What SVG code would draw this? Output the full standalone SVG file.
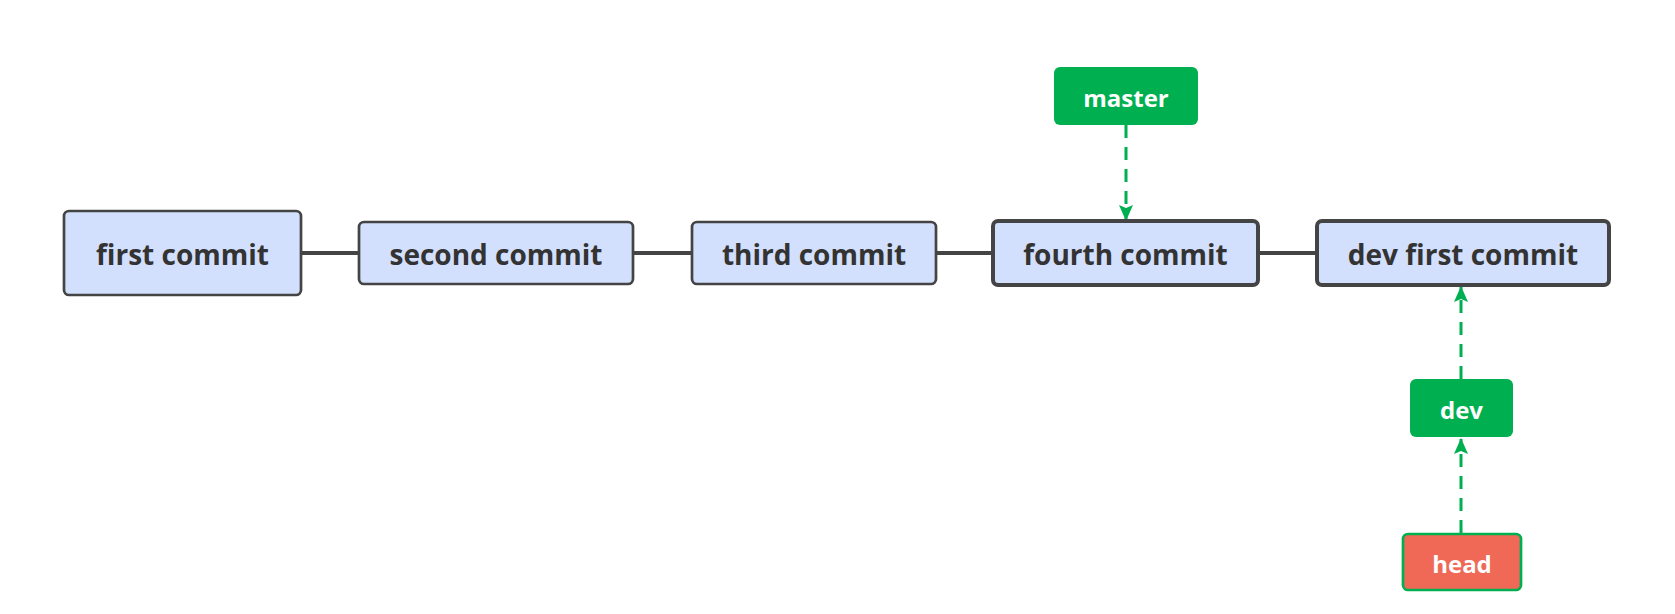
<svg xmlns="http://www.w3.org/2000/svg" width="1675" height="614" viewBox="0 0 1675 614">
<defs>
<style>
.c{fill:#d2dffd;stroke:#444;stroke-width:2.7}
.c2{fill:#d2dffd;stroke:#444;stroke-width:4}
.g{fill:#00b050}
.h{fill:#f06856;stroke:#00b050;stroke-width:2.7}
.t{font-family:"Open Sans","Noto Sans",sans-serif;font-weight:bold;font-size:28px;fill:#333;text-anchor:middle;dominant-baseline:central}
.w{fill:#fff;font-size:24px}
.ln{stroke:#444;stroke-width:4;fill:none}
.ar{stroke:#00b050;stroke-width:3;fill:none;stroke-dasharray:13 9}
</style>
<marker id="ah" viewBox="0 0 16 16" refX="15" refY="8" markerWidth="16" markerHeight="16" markerUnits="userSpaceOnUse" orient="auto">
<path d="M0,1 L16,8 L0,15 L3,8 Z" fill="#00b050"/>
</marker>
</defs>
<rect width="1675" height="614" fill="#fff"/>
<g id="connectors">
<line class="ln" x1="301" y1="253" x2="359" y2="253"/>
<line class="ln" x1="633" y1="253" x2="692" y2="253"/>
<line class="ln" x1="936" y1="253" x2="993" y2="253"/>
<line class="ln" x1="1258" y1="253" x2="1317" y2="253"/>
<line class="ar" x1="1126" y1="125" x2="1126" y2="220" marker-end="url(#ah)"/>
<line class="ar" x1="1461" y1="379" x2="1461" y2="287" marker-end="url(#ah)"/>
<line class="ar" x1="1461" y1="533" x2="1461" y2="439" marker-end="url(#ah)"/>
</g>
<g id="first"><rect class="c" x="64" y="211" width="237" height="84" rx="5"/><text class="t" x="182.5" y="254">first commit</text></g>
<g id="second"><rect class="c" x="359" y="222" width="274" height="62" rx="5"/><text class="t" x="496" y="254">second commit</text></g>
<g id="third"><rect class="c" x="692" y="222" width="244" height="62" rx="5"/><text class="t" x="814" y="254">third commit</text></g>
<g id="fourth"><rect class="c2" x="993" y="221" width="265" height="64" rx="5"/><text class="t" x="1125.5" y="254">fourth commit</text></g>
<g id="devfirst"><rect class="c2" x="1317" y="221" width="292" height="64" rx="5"/><text class="t" x="1463" y="254">dev first commit</text></g>
<g id="master"><rect class="g" x="1054" y="67" width="144" height="58" rx="6"/><text class="t w" x="1126" y="97">master</text></g>
<g id="dev"><rect class="g" x="1410" y="379" width="103" height="58" rx="6"/><text class="t w" x="1461.5" y="409">dev</text></g>
<g id="head"><rect class="h" x="1403" y="534" width="118" height="56" rx="5"/><text class="t w" x="1462" y="563">head</text></g>
</svg>
